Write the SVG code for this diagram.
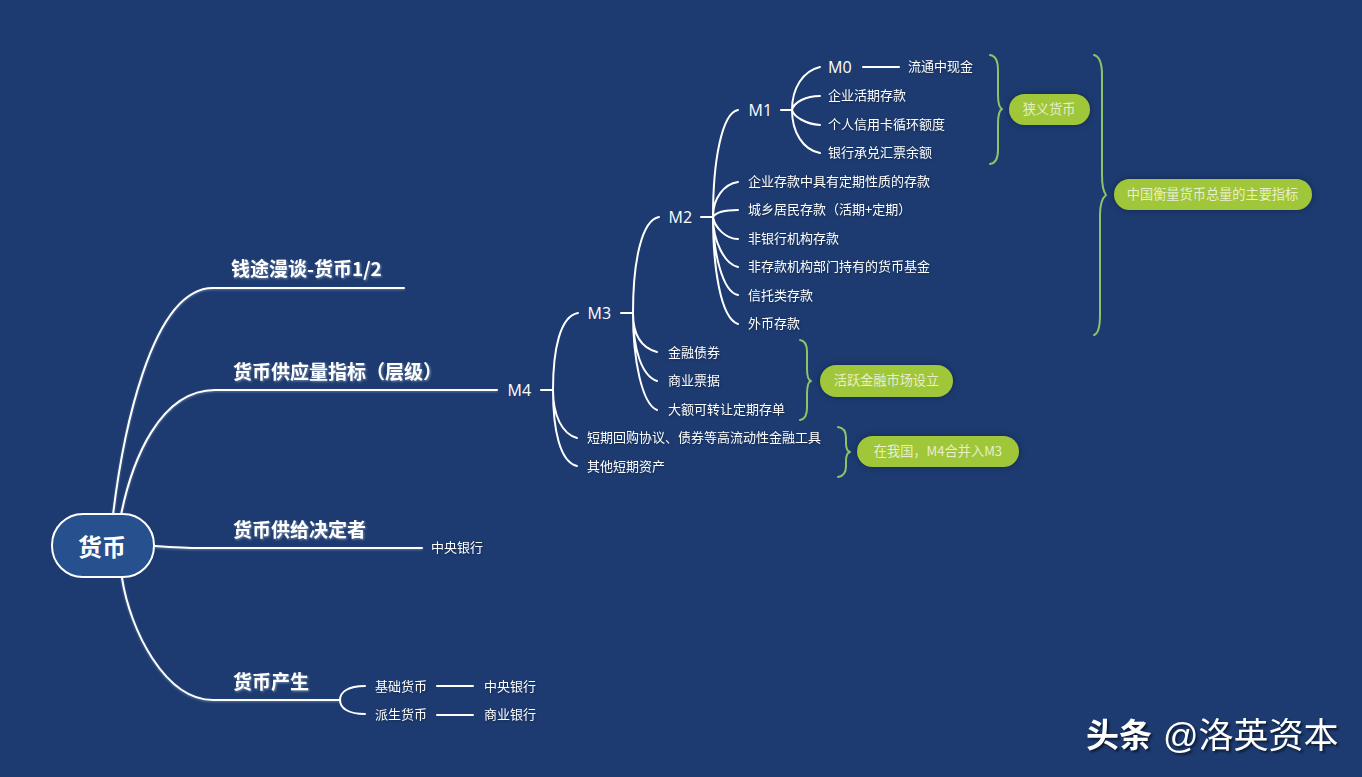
<svg xmlns="http://www.w3.org/2000/svg" width="1362" height="777" viewBox="0 0 1362 777">
<style>
text{font-family:"Noto Sans CJK SC","Liberation Sans",sans-serif;fill:#fff;dominant-baseline:central}
.t1{font-size:19px;font-weight:700;filter:drop-shadow(1px 1px 1px rgba(190,200,215,.55))}
.t2{font-size:13px;filter:drop-shadow(1px 1px 1px rgba(15,35,70,.7))}
.m{font-size:16px;font-family:"Open Sans","Noto Sans CJK SC",sans-serif}
.n{font-size:13.2px;fill:#e6efc8}
.wm{font-size:35px;font-family:"Liberation Sans","Noto Sans CJK SC",sans-serif;filter:drop-shadow(2px 2px 1px rgba(0,0,0,.55))}
.l{fill:none;stroke:#fff;stroke-linecap:round}
.a{stroke-width:2;filter:drop-shadow(0 1px 1px rgba(170,190,215,.45))}
.b{stroke-width:2}
.br{fill:none;stroke:#8cc468;stroke-width:2;stroke-linecap:round;stroke-linejoin:round}
.pill{fill:#a0c63a;filter:drop-shadow(0 0 3px rgba(15,35,75,.8))}
</style>
<rect width="1362" height="777" fill="#1d3b70"/>
<g id="connectors">
<path class="l a" d="M113 515C122 440 150 288 213 288H404"/>
<path class="l a" d="M121 515C132 460 160 390 215 390H497"/>
<path class="l a" d="M155 546C170 547 185 548 200 548H422"/>
<path class="l a" d="M122 578C130 630 165 700 213 700H340"/>
<path class="l b" d="M340 700C340 692 348 686 365 686M340 700C340 708 348 714 365 714"/>
<path class="l b" d="M437 686H473M437 715H473"/>
<path class="l b" d="M541 390H553M578 313C560 316 553 350 553 390C553 430 560 462 577 466M553 390C553 415 562 434 577 438"/>
<path class="l b" d="M621 313H633M659 217C642 220 633 260 633 313C633 360 642 404 657 410M633 313C633 350 642 376 657 381M633 313C633 335 642 348 657 352"/>
<path class="l b" d="M701 217H713M738 110C722 113 713 160 713 217C713 265 720 318 738 324M713 217C713 250 722 292 738 295M713 217C713 240 724 264 738 267M713 217C715 228 726 239 738 239M713 217C716 212 726 210 738 210M713 217C713 198 724 184 738 182"/>
<path class="l b" d="M781 110H792M820 67C803 71 792 88 792 110C792 132 803 150 820 153M792 110C794 102 806 96 820 96M792 110C794 117 806 124 820 125"/>
<path class="l b" d="M863 67H899"/>
</g>
<g id="braces">
<path class="br" d="M990 55Q998 56 998 70V95Q998 107 1002 109Q998 111 998 124V150Q998 163 990 164"/>
<path class="br" d="M1094 55Q1102 57 1102 75V175Q1102 190 1106 195Q1100 200 1100 215V315Q1100 333 1094 335"/>
<path class="br" d="M800 340Q807 341 807 352V368Q807 380 811 381Q807 382 807 394V408Q807 419 800 420"/>
<path class="br" d="M838 427Q846 428 846 438V443Q846 451 850 452Q846 453 846 461V466Q846 476 838 477"/>
</g>
<g id="root"><rect x="52" y="514" width="102" height="63" rx="31" fill="#27508f" stroke="#fff" stroke-width="2"/><text x="102" y="545.500" text-anchor="middle" style="font-size:24px;font-weight:700">货币</text></g>
<g id="n-title"><text class="t1" x="231" y="267.500">钱途漫谈-货币1/2</text></g>
<g id="n-supply"><text class="t1" x="233" y="370.500">货币供应量指标（层级）</text></g>
<g id="n-decider"><text class="t1" x="233" y="528.500">货币供给决定者</text></g>
<g id="n-origin"><text class="t1" x="233" y="680.500">货币产生</text></g>
<g id="n-cb1"><text class="t2" x="431" y="546.500">中央银行</text></g>
<g id="n-base"><text class="t2" x="375" y="685.500">基础货币</text></g>
<g id="n-deriv"><text class="t2" x="375" y="713.500">派生货币</text></g>
<g id="n-cb2"><text class="t2" x="484" y="685.500">中央银行</text></g>
<g id="n-cm"><text class="t2" x="484" y="713.500">商业银行</text></g>
<g id="n-m4"><text class="m" x="507.500" y="390">M4</text></g>
<g id="n-m3"><text class="m" x="587.500" y="313">M3</text></g>
<g id="n-m2"><text class="m" x="668.500" y="217">M2</text></g>
<g id="n-m1"><text class="m" x="748.500" y="110">M1</text></g>
<g id="n-m0"><text class="m" x="828" y="67">M0</text></g>
<g id="n-a1"><text class="t2" x="908" y="65.500">流通中现金</text></g>
<g id="n-a2"><text class="t2" x="828" y="94.500">企业活期存款</text></g>
<g id="n-a3"><text class="t2" x="828" y="123.500">个人信用卡循环额度</text></g>
<g id="n-a4"><text class="t2" x="828" y="151.500">银行承兑汇票余额</text></g>
<g id="n-b1"><text class="t2" x="748" y="180.500">企业存款中具有定期性质的存款</text></g>
<g id="n-b2"><text class="t2" x="748" y="208.500">城乡居民存款（活期+定期）</text></g>
<g id="n-b3"><text class="t2" x="748" y="237.500">非银行机构存款</text></g>
<g id="n-b4"><text class="t2" x="748" y="265.500">非存款机构部门持有的货币基金</text></g>
<g id="n-b5"><text class="t2" x="748" y="294.500">信托类存款</text></g>
<g id="n-b6"><text class="t2" x="748" y="322.500">外币存款</text></g>
<g id="n-c1"><text class="t2" x="668" y="351.500">金融债券</text></g>
<g id="n-c2"><text class="t2" x="668" y="379.500">商业票据</text></g>
<g id="n-c3"><text class="t2" x="668" y="408.500">大额可转让定期存单</text></g>
<g id="n-d1"><text class="t2" x="587" y="436.500">短期回购协议、债券等高流动性金融工具</text></g>
<g id="n-d2"><text class="t2" x="587" y="465.500">其他短期资产</text></g>
<g id="n-note1"><rect class="pill" x="1009" y="94" width="81" height="31" rx="15.500"/><text class="n" x="1049" y="108" text-anchor="middle">狭义货币</text></g>
<g id="n-note2"><rect class="pill" x="1114" y="179" width="198" height="31" rx="15.500"/><text class="n" x="1212.500" y="193.500" text-anchor="middle">中国衡量货币总量的主要指标</text></g>
<g id="n-note3"><rect class="pill" x="820" y="365" width="133" height="32" rx="16"/><text class="n" x="886.500" y="379.500" text-anchor="middle">活跃金融市场设立</text></g>
<g id="n-note4"><rect class="pill" x="857" y="436" width="162" height="31" rx="15.500"/><text class="n" x="938" y="450.500" text-anchor="middle">在我国，M4合并入M3</text></g>
<text class="wm" x="1086" y="735" font-weight="700" style="font-size:33px">头条</text>
<text class="wm" x="1163" y="735">@洛英资本</text>
</svg>
